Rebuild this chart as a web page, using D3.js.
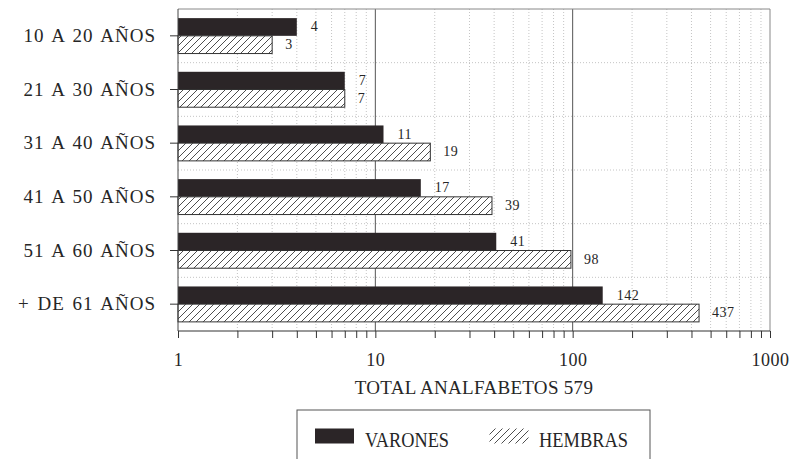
<!DOCTYPE html>
<html>
<head>
<meta charset="utf-8">
<script src="https://cdn.jsdelivr.net/npm/d3@7"></script>
<style>
  html, body { margin: 0; padding: 0; background: #fff; }
  svg { display: block; }
  text { font-family: "Liberation Serif", "DejaVu Serif", serif; fill: #262626; }
</style>
</head>
<body>
<svg id="chart" width="811" height="459"></svg>
<script>
const categories = ["10 A 20 AÑOS", "21 A 30 AÑOS", "31 A 40 AÑOS", "41 A 50 AÑOS", "51 A 60 AÑOS", "+ DE 61 AÑOS"];
const varones = [4, 7, 11, 17, 41, 142];
const hembras = [3, 7, 19, 39, 98, 437];
const seriesNames = ["VARONES", "HEMBRAS"];
const xTickLabels = [1, 10, 100, 1000];
const axisTitle = "TOTAL ANALFABETOS 579";

(function () {
const svg = d3.select("#chart");
const pL = 178, pR = 770, pT = 9, pB = 331;

const x = d3.scaleLog().domain([1, 1000]).range([pL, pR]);
const y = d3.scaleBand().domain(categories).range([pT, pB]).paddingInner(0.34).paddingOuter(0.17);
const sub = d3.scaleBand().domain(seriesNames).range([0, y.bandwidth()]);

// hatch pattern
const defs = svg.append("defs");
const pat = defs.append("pattern").attr("id", "hatch").attr("patternUnits", "userSpaceOnUse")
  .attr("width", 7).attr("height", 7);
pat.append("rect").attr("width", 7).attr("height", 7).attr("fill", "#fff");
pat.append("path").attr("d", "M-1,8 L8,-1 M-2,1 L1,-2 M6,9 L9,6")
  .attr("stroke", "#3a3a3a").attr("stroke-width", 0.9);

// minor tick values
const minorVals = [];
[1, 10, 100].forEach(d => { for (let k = 2; k <= 9; k++) minorVals.push(d * k); });
const allTicks = [1].concat(minorVals.slice(0, 8), [10], minorVals.slice(8, 16), [100], minorVals.slice(16), [1000]);

const grid = svg.append("g");
grid.selectAll("line.vg").data(minorVals).join("line")
  .attr("x1", d => x(d)).attr("x2", d => x(d))
  .attr("y1", pT).attr("y2", pB)
  .attr("stroke", "#b5b5b5").attr("stroke-width", 0.8).attr("stroke-dasharray", "1,2");
const step = y.step();
const hVals = d3.range(1, categories.length).map(i => pT + i * step);
grid.selectAll("line.hg").data(hVals).join("line")
  .attr("x1", pL).attr("x2", pR)
  .attr("y1", d => d).attr("y2", d => d)
  .attr("stroke", "#b5b5b5").attr("stroke-width", 0.8).attr("stroke-dasharray", "1,2");
grid.selectAll("line.dg").data([10, 100]).join("line")
  .attr("x1", d => x(d)).attr("x2", d => x(d))
  .attr("y1", pT).attr("y2", pB)
  .attr("stroke", "#555").attr("stroke-width", 1);
grid.append("line").attr("x1", pL).attr("x2", pR).attr("y1", pT).attr("y2", pT)
  .attr("stroke", "#888").attr("stroke-width", 1);
grid.append("line").attr("x1", pR).attr("x2", pR).attr("y1", pT).attr("y2", pB)
  .attr("stroke", "#888").attr("stroke-width", 1);

// bars
const rows = categories.map((c, i) => ({ c, v: varones[i], h: hembras[i] }));
const bars = svg.append("g");
bars.selectAll("rect.v").data(rows).join("rect")
  .attr("x", x(1)).attr("y", d => y(d.c) + sub("VARONES"))
  .attr("width", d => x(d.v) - x(1)).attr("height", sub.bandwidth())
  .attr("fill", "#2b2527");
bars.selectAll("rect.h").data(rows).join("rect")
  .attr("x", x(1)).attr("y", d => y(d.c) + sub("HEMBRAS"))
  .attr("width", d => x(d.h) - x(1)).attr("height", sub.bandwidth())
  .attr("fill", "url(#hatch)").attr("stroke", "#333").attr("stroke-width", 1);

// value labels
const lab = svg.append("g").attr("font-size", 14);
lab.selectAll("text.v").data(rows).join("text")
  .attr("x", d => x(d.v) + 14).attr("y", d => y(d.c) + sub("VARONES") + sub.bandwidth() / 2 + 1)
  .attr("dominant-baseline", "middle").attr("letter-spacing", 0.5).text(d => d.v);
lab.selectAll("text.h").data(rows).join("text")
  .attr("x", d => x(d.h) + 13).attr("y", d => y(d.c) + sub("HEMBRAS") + sub.bandwidth() / 2 + 1)
  .attr("dominant-baseline", "middle").attr("letter-spacing", 0.5).text(d => d.h);

// y axis
const yAxis = svg.append("g").attr("transform", `translate(${pL},0)`)
  .call(d3.axisLeft(y).tickSize(8).tickPadding(14));
yAxis.select(".domain").attr("stroke", "#444").attr("d", `M0,${pT}V${pB}`);
yAxis.selectAll(".tick line").attr("stroke", "#333");
yAxis.selectAll(".tick text").attr("font-size", 19).attr("letter-spacing", 1).attr("word-spacing", 2)
  .attr("font-family", "Liberation Serif, serif").attr("fill", "#262626");

// x axis
const xAxis = svg.append("g").attr("transform", `translate(0,${pB})`)
  .call(d3.axisBottom(x).tickValues(allTicks).tickSize(7).tickPadding(15)
    .tickFormat(d => xTickLabels.includes(d) ? String(d) : ""));
xAxis.select(".domain").attr("stroke", "#333").attr("d", `M${pL},0H${pR}`);
xAxis.selectAll(".tick line").attr("stroke", "#333");
xAxis.selectAll(".tick text").attr("font-size", 18).attr("font-family", "Liberation Serif, serif")
  .attr("fill", "#262626").attr("letter-spacing", 0.5);

// axis title
svg.append("text").attr("x", (pL + pR) / 2).attr("y", 393.5)
  .attr("text-anchor", "middle").attr("font-size", 19).attr("letter-spacing", 0.3).text(axisTitle);

// legend
const lg = svg.append("g");
lg.append("rect").attr("x", 297).attr("y", 410).attr("width", 353).attr("height", 70)
  .attr("fill", "none").attr("stroke", "#555").attr("stroke-width", 1);
const legendItems = [
  { name: seriesNames[0], fill: "#2b2527", sx: 315, tx: 365, w: 84 },
  { name: seriesNames[1], fill: "url(#hatch)", sx: 489.5, tx: 539, w: 89 }
];
lg.selectAll("rect.sw").data(legendItems).join("rect")
  .attr("x", d => d.sx).attr("y", 428.5).attr("width", 39).attr("height", 15)
  .attr("fill", d => d.fill);
lg.selectAll("text.lt").data(legendItems).join("text")
  .attr("x", d => d.tx).attr("y", 446.5).attr("font-size", 20)
  .attr("textLength", d => d.w).attr("lengthAdjust", "spacingAndGlyphs").text(d => d.name);
})();
</script>
</body>
</html>
